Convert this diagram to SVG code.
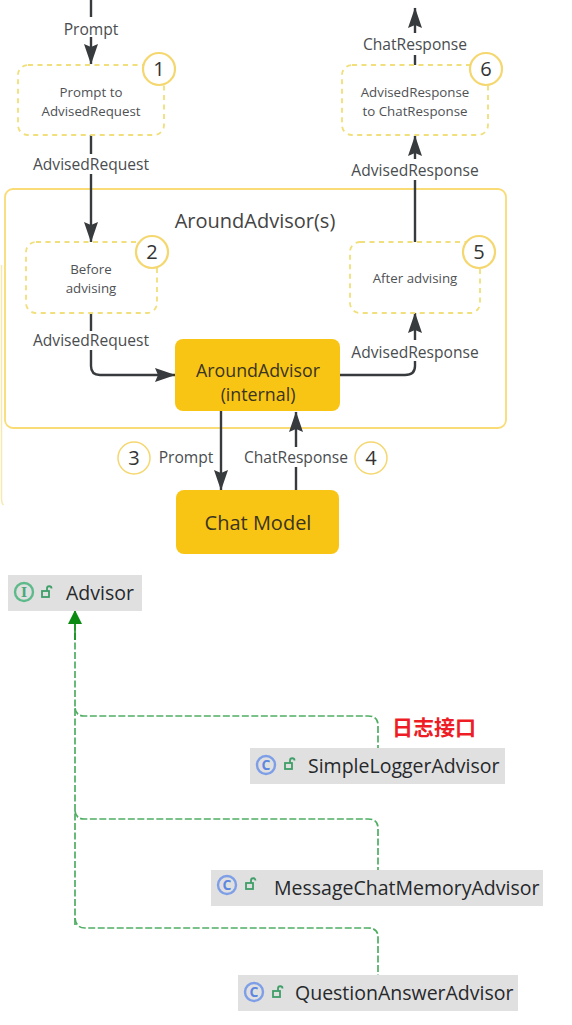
<svg xmlns="http://www.w3.org/2000/svg" width="572" height="1025" viewBox="0 0 572 1025">
<defs>
<marker id="ah" markerUnits="userSpaceOnUse" markerWidth="21" markerHeight="14" refX="20" refY="7" orient="auto" viewBox="0 0 21 14"><path d="M0 0L20.500 7L0 14L3 7Z" fill="#383b3d"/></marker>
<marker id="gh" markerUnits="userSpaceOnUse" markerWidth="14" markerHeight="14" refX="13" refY="7" orient="auto" viewBox="0 0 14 14"><path d="M0 0L14 7L0 14Z" fill="#0b8a12"/></marker>
<g id="lock" fill="none" stroke="#3f9f68" stroke-width="1.800"><rect x="-5" y="-2" width="7" height="6"/><path d="M0-2V-4.500a2.200 2.200 0 0 1 4.500 0"/></g>
</defs>
<style>
text{font-family:"Open Sans","Noto Sans","Liberation Sans",sans-serif;fill:#4a4d50;text-anchor:middle}
.lbl{font-size:15.600px}
.small{font-size:13.300px;fill:#4f5255}
.num{font-size:20px;fill:#333}
.big{font-size:17.800px;fill:#3a3420}
.title{font-size:20px;fill:#444}
.dash{fill:#fff;stroke:#f0df7a;stroke-width:1.800;stroke-dasharray:5 4.500}
.circ{fill:#fff;stroke:#f5d770;stroke-width:2.200}
.core{fill:#f9c514}
.line{fill:none;stroke:#383b3d;stroke-width:2.400}
.cls{fill:#e0e0e0}
.name{font-size:19.500px;fill:#26282b;text-anchor:start}
.g{fill:none;stroke:#4fae63;stroke-width:1.700;stroke-dasharray:7 2.500}
.ci{fill:none;stroke:#7e9fe8;stroke-width:2.400}
.cc{font-size:14px;font-weight:700;fill:#5d86e0}
</style>
<g id="frame">
<rect x="5" y="189" width="501" height="239" rx="8" fill="#fff" stroke="#f9dc76" stroke-width="1.800"/>
<path d="M1.500 265V498q0 5 2 7" fill="none" stroke="#f6e9b2" stroke-width="1.500"/>
<text class="title" x="255" y="228">AroundAdvisor(s)</text>
</g>
<g id="connectors">
<path class="line" d="M91 0V17"/>
<path class="line" d="M91 37V64" marker-end="url(#ah)"/>
<path class="line" d="M91 135V154"/>
<path class="line" d="M91 174V242" marker-end="url(#ah)"/>
<path class="line" d="M91 313V331"/>
<path class="line" d="M91 350V366q0 9 9 9H175" marker-end="url(#ah)"/>
<path class="line" d="M221 411V490" marker-end="url(#ah)"/>
<path class="line" d="M296 490V467"/>
<path class="line" d="M296 447V412" marker-end="url(#ah)"/>
<path class="line" d="M340 375H405q10 0 10-9V361"/>
<path class="line" d="M415 340V313" marker-end="url(#ah)"/>
<path class="line" d="M415 242V180"/>
<path class="line" d="M415 159V136" marker-end="url(#ah)"/>
<path class="line" d="M415 65V55"/>
<path class="line" d="M415 33V8" marker-end="url(#ah)"/>
<path class="g" d="M75 925V624"/>
<path class="g" d="M75 708q1 8 9 8H368q10 0 10 9V748"/>
<path class="g" d="M75 811q1 8 9 8H368q10 0 10 9V870"/>
<path class="g" d="M75 918q1 10 10 10H368q10 0 10 9V975"/>
<path d="M75 640V611" stroke="#0b8a12" stroke-width="1.500" fill="none" marker-end="url(#gh)"/>
</g>
<g id="node-1"><rect class="dash" x="18" y="65" width="146" height="70" rx="10"/><text class="small" x="91" y="97">Prompt to</text><text class="small" x="91" y="116">AdvisedRequest</text><circle class="circ" cx="159" cy="69" r="16"/><text class="num" x="159" y="76">1</text></g>
<g id="node-2"><rect class="dash" x="26" y="242" width="131" height="71" rx="10"/><text class="small" x="91" y="274">Before</text><text class="small" x="91" y="293">advising</text><circle class="circ" cx="152" cy="252" r="16"/><text class="num" x="152" y="259">2</text></g>
<g id="node-5"><rect class="dash" x="350" y="242" width="130" height="71" rx="10"/><text class="small" x="415" y="283">After advising</text><circle class="circ" cx="479" cy="252" r="16"/><text class="num" x="479" y="259">5</text></g>
<g id="node-6"><rect class="dash" x="342" y="65" width="146" height="70" rx="10"/><text class="small" x="415" y="97">AdvisedResponse</text><text class="small" x="415" y="116">to ChatResponse</text><circle class="circ" cx="486" cy="69" r="16"/><text class="num" x="486" y="76">6</text></g>
<g id="node-around"><rect class="core" x="175" y="339" width="165" height="72" rx="8"/><text class="big" x="258" y="377">AroundAdvisor</text><text class="big" x="258" y="401">(internal)</text></g>
<g id="node-model"><rect class="core" x="176" y="490" width="163" height="64" rx="8"/><text class="big" x="258" y="530" style="font-size:20px">Chat Model</text></g>
<g id="labels">
<text class="lbl" x="91" y="35">Prompt</text>
<text class="lbl" x="91" y="170">AdvisedRequest</text>
<text class="lbl" x="91" y="346">AdvisedRequest</text>
<text class="lbl" x="186" y="463">Prompt</text>
<text class="lbl" x="296" y="463">ChatResponse</text>
<text class="lbl" x="415" y="358">AdvisedResponse</text>
<text class="lbl" x="415" y="176">AdvisedResponse</text>
<text class="lbl" x="415" y="50">ChatResponse</text>
<circle class="circ" cx="134" cy="458" r="16" style="stroke-width:1.500"/><text class="num" x="134" y="465">3</text>
<circle class="circ" cx="371" cy="458" r="16" style="stroke-width:1.500"/><text class="num" x="371" y="465">4</text>
</g>
<g id="advisor"><rect class="cls" x="8" y="575" width="134" height="36"/><circle cx="24" cy="592" r="9" fill="none" stroke="#5dba8a" stroke-width="2.400"/><text x="24" y="597" style="font-size:13px;font-weight:700;fill:#4aa87a;font-family:'DejaVu Serif',serif">I</text><use href="#lock" x="47" y="593"/><text class="name" x="66" y="600">Advisor</text></g>
<g id="simple-logger"><rect class="cls" x="250" y="748" width="255" height="36"/><circle class="ci" cx="266" cy="765" r="9"/><text class="cc" x="266" y="770">C</text><use href="#lock" x="290" y="765"/><text class="name" x="308" y="773">SimpleLoggerAdvisor</text></g>
<g id="message-memory"><rect class="cls" x="211" y="870" width="332" height="36"/><circle class="ci" cx="227" cy="885" r="9"/><text class="cc" x="227" y="890">C</text><use href="#lock" x="251" y="885"/><text class="name" x="274" y="895">MessageChatMemoryAdvisor</text></g>
<g id="question-answer"><rect class="cls" x="238" y="975" width="280" height="36"/><circle class="ci" cx="254" cy="992" r="9"/><text class="cc" x="254" y="997">C</text><use href="#lock" x="278" y="993"/><text class="name" x="295" y="1000">QuestionAnswerAdvisor</text></g>
<text x="434" y="735" style="font-family:'Noto Sans CJK SC',sans-serif;font-size:21px;font-weight:700;fill:#ee1c25">日志接口</text>
</svg>
